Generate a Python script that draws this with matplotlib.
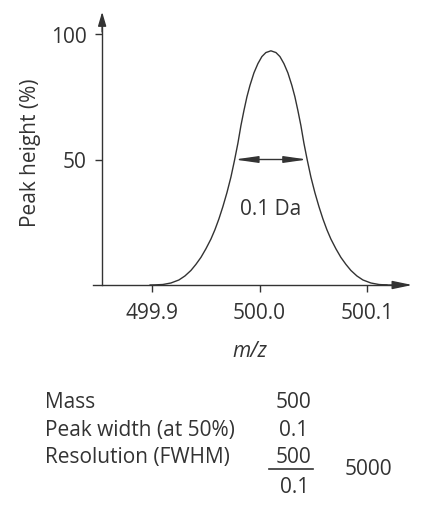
import matplotlib
matplotlib.use("Agg")
import matplotlib.pyplot as plt

# peak profile (m/z, peak height %)
mz = [499.8981, 499.9026, 499.9100, 499.9175, 499.9249, 499.9305, 499.9361,
      499.9407, 499.9454, 499.9500, 499.9547, 499.9584, 499.9621, 499.9658,
      499.9696, 499.9733, 499.9767, 499.9798, 499.9826, 499.9854, 499.9882,
      499.9910, 499.9947, 499.9984, 500.0021, 500.0058, 500.0105,
      500.0152, 500.0189, 500.0226, 500.0263, 500.0300, 500.0328, 500.0356,
      500.0384, 500.0412, 500.0443, 500.0477, 500.0514, 500.0552, 500.0589,
      500.0626, 500.0663, 500.0710, 500.0756, 500.0803, 500.0849, 500.0905,
      500.0961, 500.1035, 500.1110, 500.1184]
height = [0.0, 0.05, 0.2, 0.8, 2.0, 3.6, 5.8,
          8.2, 11.0, 14.4, 18.3, 22.0, 26.3, 31.2,
          36.8, 43.0, 49.8, 56.5, 63.5, 69.5, 75.0,
          79.5, 84.5, 88.2, 91.0, 92.6, 93.3,
          92.6, 91.0, 88.2, 84.5, 79.5, 75.0, 69.5,
          63.5, 56.5, 49.8, 43.0, 36.8, 31.2, 26.3,
          22.0, 18.3, 14.4, 11.0, 8.2, 5.8, 3.6,
          2.0, 0.8, 0.2, 0.0]

x_ticks = [499.9, 500.0, 500.1]
x_tick_labels = ["499.9", "500.0", "500.1"]
y_ticks = [50, 100]
y_tick_labels = ["50", "100"]

fwhm_left, fwhm_right, fwhm_level = 499.9767, 500.0443, 50
fwhm_label = "0.1 Da"

table_labels = ["Mass", "Peak width (at 50%)", "Resolution (FWHM)"]
table_values = ["500", "0.1", "500"]
denominator = "0.1"
resolution = "5000"

INK = "#333333"
W, H = 445, 506
plt.rcParams["font.family"] = ["Open Sans", "DejaVu Sans"]
plt.rcParams["font.size"] = 15


def fx(px):
    return px / W


def fy(py):
    return 1 - py / H


fig = plt.figure(figsize=(W / 100, H / 100), dpi=100)
ax = fig.add_axes([fx(93), fy(286), fx(322.5), (286 - 9.9) / H])
ax.set_xlim(499.845, 500.145)
ax.set_ylim(0, 110)
ax.patch.set_visible(False)

y_axis_x = 499.8535
y_top = 108.8
x_right = 500.142

ax.plot(mz, height, color=INK, lw=1.0, solid_joinstyle="round")

for s in ["top", "right"]:
    ax.spines[s].set_visible(False)
ax.spines["left"].set_position(("data", y_axis_x))
ax.spines["left"].set_bounds(0, y_top - 3)
ax.spines["bottom"].set_bounds(499.845, x_right - 0.01)
for s in ["left", "bottom"]:
    ax.spines[s].set_color(INK)
    ax.spines[s].set_linewidth(1.0)

ax.annotate("", xy=(y_axis_x, y_top), xytext=(y_axis_x, y_top - 8),
            arrowprops=dict(arrowstyle="-|>,head_length=0.85,head_width=0.25",
                            color=INK, lw=1.0, mutation_scale=10,
                            shrinkA=0, shrinkB=0))
ax.annotate("", xy=(x_right, 0), xytext=(x_right - 0.03, 0),
            arrowprops=dict(arrowstyle="-|>,head_length=1.2,head_width=0.25",
                            color=INK, lw=1.0, mutation_scale=10,
                            shrinkA=0, shrinkB=0))
ax.annotate("", xy=(fwhm_left, fwhm_level), xytext=(fwhm_right, fwhm_level),
            arrowprops=dict(arrowstyle="<|-|>,head_length=1.4,head_width=0.2",
                            color=INK, lw=1.0, mutation_scale=10,
                            shrinkA=0, shrinkB=0))
ax.text((fwhm_left + fwhm_right) / 2, 30.3, fwhm_label, ha="center",
        va="center", color=INK)

ax.set_xticks(x_ticks, x_tick_labels)
ax.set_yticks(y_ticks, y_tick_labels)
ax.tick_params(direction="out", length=5, width=1.0, colors=INK, labelcolor=INK)
ax.tick_params(axis="x", pad=7)
ax.tick_params(axis="y", pad=6)

fig.text(fx(31), fy(153), "Peak height (%)", rotation=90, ha="center",
         va="center", color=INK)
fig.text(fx(250), fy(357), "m/z", style="italic", ha="center",
         va="baseline", color=INK)

# resolution worked example under the chart
rows_y = [408, 436, 463]
for label, value, py in zip(table_labels, table_values, rows_y):
    fig.text(fx(45), fy(py), label, ha="left", va="baseline", color=INK)
    fig.text(fx(293.5), fy(py), value, ha="center", va="baseline", color=INK)
fig.add_artist(plt.Line2D([fx(269), fx(313)], [fy(469.5), fy(469.5)],
                          color=INK, lw=1.2))
fig.text(fx(294.5), fy(493), denominator, ha="center", va="baseline", color=INK)
fig.text(fx(345), fy(475), resolution, ha="left", va="baseline", color=INK)

fig.savefig("out.png", dpi=100)
